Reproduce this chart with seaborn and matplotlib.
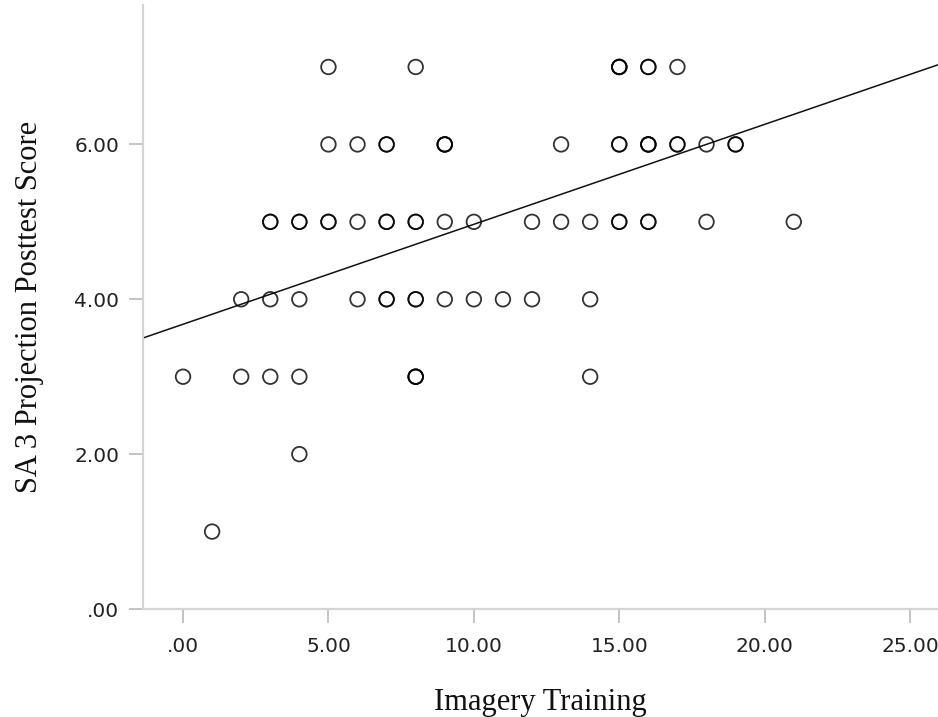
import numpy as np
import pandas as pd
import matplotlib
matplotlib.use("Agg")
import matplotlib.pyplot as plt
import seaborn as sns

# data (repeated values = darker overlapping circles)
x_y7 = [5, 8, 15, 15, 15, 16, 16, 17]
x_y6 = [5, 6, 7, 7, 9, 9, 9, 13, 15, 15, 16, 16, 16, 17, 17, 18, 19, 19]
x_y5 = [3, 3, 4, 4, 5, 5, 6, 7, 7, 8, 8, 9, 10, 12, 13, 14, 15, 15, 16, 16, 18, 21]
x_y4 = [2, 3, 4, 6, 7, 7, 8, 8, 9, 10, 11, 12, 14]
x_y3 = [0, 2, 3, 4, 8, 8, 8, 14]
x_y2 = [4]
x_y1 = [1]

xs = x_y7 + x_y6 + x_y5 + x_y4 + x_y3 + x_y2 + x_y1
ys = ([7] * len(x_y7) + [6] * len(x_y6) + [5] * len(x_y5) + [4] * len(x_y4)
      + [3] * len(x_y3) + [2] * len(x_y2) + [1] * len(x_y1))
df = pd.DataFrame({"Imagery Training": xs, "SA 3 Projection Posttest Score": ys})

x_ticks = [0, 5, 10, 15, 20, 25]
y_ticks = [0, 2, 4, 6]


def fmt(v):
    s = f"{v:.2f}"
    return s[1:] if s.startswith("0") else s


sns.set_style("white")
fig = plt.figure(figsize=(9.38, 7.17), dpi=100)
ax = fig.add_axes([0.1525, 0.1506, 0.8475, 0.8424])
xlim = (-1.375, 25.96)
ylim = (0, 7.80)
ax.set_xlim(*xlim)
ax.set_ylim(*ylim)

sns.regplot(data=df, x="Imagery Training", y="SA 3 Projection Posttest Score",
            ax=ax, ci=None, truncate=False,
            scatter_kws=dict(s=110, facecolors="none", edgecolors=(0, 0, 0, 0.62),
                             linewidths=1.3, zorder=3),
            line_kws=dict(color="#111111", lw=1.1, zorder=2))
ax.set_xlim(*xlim)
ax.set_ylim(*ylim)

for s in ["top", "right"]:
    ax.spines[s].set_visible(False)
for s in ["left", "bottom"]:
    ax.spines[s].set_color("#d4d4d4")
    ax.spines[s].set_linewidth(1.6)

ax.set_xticks(x_ticks)
ax.set_xticklabels([fmt(v) for v in x_ticks])
ax.set_yticks(y_ticks)
ax.set_yticklabels([fmt(v) for v in y_ticks])

for lab in ax.get_xticklabels() + ax.get_yticklabels():
    lab.set_fontfamily("DejaVu Sans")
    lab.set_fontsize(14.5)
    lab.set_color("#222222")

ax.tick_params(axis="x", direction="out", length=10, width=1.4, color="#c4c4c4", pad=10,
               bottom=True)
ax.tick_params(axis="y", direction="out", length=10, width=1.4, color="#c4c4c4", pad=7,
               left=True)

labfont = dict(family="Liberation Serif", size=22, color="#111111")
ax.set_xlabel("Imagery Training", labelpad=23, **labfont)
ax.set_ylabel("SA 3 Projection Posttest Score", labelpad=22, **labfont)

fig.savefig("out.png", dpi=100)
